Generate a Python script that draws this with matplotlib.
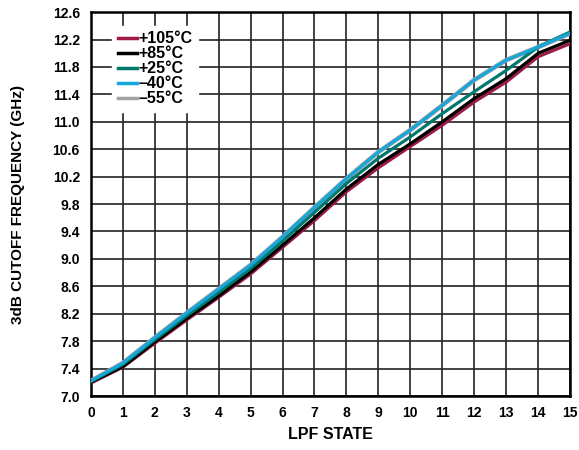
import matplotlib
matplotlib.use("Agg")
import matplotlib.pyplot as plt

states = list(range(16))
temps = ["+105°C", "+85°C", "+25°C", "\u201340°C", "\u201355°C"]
colors = ["#9c1a48", "#000000", "#00786e", "#17a6d9", "#a2a2a2"]

f_105 = [7.19, 7.42, 7.77, 8.11, 8.44, 8.78, 9.17, 9.56, 9.98, 10.33, 10.64, 10.95, 11.29, 11.58, 11.95, 12.14]
f_85 = [7.20, 7.43, 7.79, 8.13, 8.46, 8.81, 9.20, 9.60, 10.02, 10.38, 10.68, 11.00, 11.34, 11.63, 12.00, 12.19]
f_25 = [7.21, 7.46, 7.82, 8.17, 8.51, 8.86, 9.26, 9.68, 10.10, 10.47, 10.78, 11.12, 11.44, 11.75, 12.09, 12.31]
f_m40 = [7.22, 7.48, 7.85, 8.21, 8.56, 8.91, 9.32, 9.75, 10.17, 10.56, 10.88, 11.24, 11.61, 11.90, 12.09, 12.29]
f_m55 = [7.22, 7.48, 7.85, 8.21, 8.56, 8.91, 9.32, 9.75, 10.17, 10.56, 10.88, 11.24, 11.61, 11.90, 12.09, 12.29]

series = [f_105, f_85, f_25, f_m40, f_m55]
yticks = [7.0, 7.4, 7.8, 8.2, 8.6, 9.0, 9.4, 9.8, 10.2, 10.6, 11.0, 11.4, 11.8, 12.2, 12.6]

plt.rcParams["font.family"] = ["Liberation Sans", "DejaVu Sans"]
plt.rcParams["font.weight"] = "bold"

fig = plt.figure(figsize=(5.79, 4.5), dpi=100)
ax = fig.add_axes([0.157, 0.12, 0.8275, 0.853])

# gray goes under blue so it only shows as an outline
order = [4, 0, 1, 2, 3]
lines = {}
for z, i in enumerate(order):
    lw = 3.4 if i == 4 else 2.3
    (ln,) = ax.plot(states, series[i], color=colors[i], linewidth=lw, label=temps[i],
                    solid_joinstyle="round", zorder=3 + z)
    lines[i] = ln

ax.set_xlim(0, 15)
ax.set_ylim(7.0, 12.6)
ax.set_xticks(states)
ax.set_yticks(yticks)
ax.set_yticklabels([f"{v:.1f}" for v in yticks])
ax.grid(True, color="#222222", linewidth=1.2)
ax.set_axisbelow(True)
ax.tick_params(length=0, labelsize=10)
ax.tick_params(axis="y", pad=8)
ax.tick_params(axis="x", pad=7)
for lbl in ax.get_xticklabels() + ax.get_yticklabels():
    lbl.set_fontweight("bold")
for sp in ax.spines.values():
    sp.set_linewidth(1.8)

ax.set_xlabel("LPF STATE", fontsize=11.5, fontweight="bold")
ax.set_ylabel("3dB CUTOFF FREQUENCY (GHz)", fontsize=11, fontweight="bold")
ax.xaxis.set_label_coords(0.5, -0.099)
ax.yaxis.set_label_coords(-0.152, 0.5)
ax.xaxis.label.set_va("center")
ax.yaxis.label.set_va("center")

handles = [lines[i] for i in range(5)]
leg = ax.legend(handles, temps, loc="upper left", bbox_to_anchor=(0.028, 0.985), frameon=True,
                fancybox=False, edgecolor="white", framealpha=1.0,
                handlelength=1.2, handletextpad=0.1, labelspacing=0.0, borderpad=0.35,
                prop={"weight": "bold", "size": 11.5})
for lh in leg.get_lines():
    lh.set_linewidth(2.5)
leg.set_zorder(10)

fig.savefig("out.png", dpi=100)
